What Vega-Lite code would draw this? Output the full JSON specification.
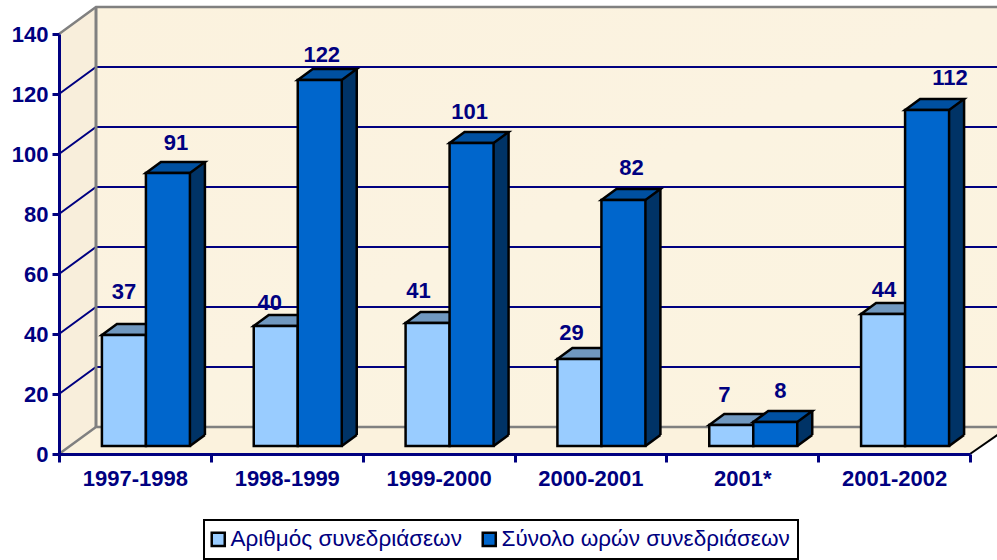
{
"$schema":"https://vega.github.io/schema/vega-lite/v6.json",
"width":911,"height":420,
"autosize":{"type":"none"},
"padding":{"left":59,"top":34,"right":27,"bottom":106},
"background":"white",
"config":{"view":{"stroke":null},"font":"Liberation Sans","legend":{"strokeWidth":2}},
"datasets":{
"bars":[
{"year":"1997-1998","series":"Αριθμός συνεδριάσεων","value":37},
{"year":"1998-1999","series":"Αριθμός συνεδριάσεων","value":40},
{"year":"1999-2000","series":"Αριθμός συνεδριάσεων","value":41},
{"year":"2000-2001","series":"Αριθμός συνεδριάσεων","value":29},
{"year":"2001*","series":"Αριθμός συνεδριάσεων","value":7},
{"year":"2001-2002","series":"Αριθμός συνεδριάσεων","value":44},
{"year":"1997-1998","series":"Σύνολο ωρών συνεδριάσεων","value":91},
{"year":"1998-1999","series":"Σύνολο ωρών συνεδριάσεων","value":122},
{"year":"1999-2000","series":"Σύνολο ωρών συνεδριάσεων","value":101},
{"year":"2000-2001","series":"Σύνολο ωρών συνεδριάσεων","value":82},
{"year":"2001*","series":"Σύνολο ωρών συνεδριάσεων","value":8},
{"year":"2001-2002","series":"Σύνολο ωρών συνεδριάσεων","value":112}],
"grid":[{"v":20},{"v":40},{"v":60},{"v":80},{"v":100},{"v":120}],
"edge":[{"v":0},{"v":140}],
"origin":[{"v":0}]
},
"data":{"name":"bars"},
"encoding":{
"x":{"field":"year","type":"nominal","sort":null,"title":null,
"scale":{"domain":["1997-1998","1998-1999","1999-2000","2000-2001","2001*","2001-2002"],"paddingInner":0,"paddingOuter":0},
"axis":{"labelAngle":0,"labelFontSize":22,"labelFontWeight":"bold","labelColor":"#000080","domainColor":"#000080","domainWidth":3,"tickColor":"#000080","tickWidth":3,"tickSize":8,"tickBand":"extent","labelPadding":6,"zindex":1}},
"y":{"field":"value","type":"quantitative","title":null,
"scale":{"domain":[0,140],"nice":false},
"axis":{"values":[0,20,40,60,80,100,120,140],"grid":false,"labelFontSize":22,"labelFontWeight":"bold","labelColor":"#000080","domainColor":"#000080","domainWidth":3,"tickColor":"#000080","tickWidth":3,"tickSize":7,"labelPadding":4,"zindex":1}}
},
"layer":[
{"data":{"name":"origin"},"mark":{"type":"point","shape":"M0,0L37,-27L37,-447L0,-420Z","size":4,"filled":true,"fill":"#f8eedb","stroke":null,"opacity":1},
 "encoding":{"x":{"datum":"1997-1998","bandPosition":0},"y":{"field":"v","type":"quantitative"}}},
{"data":{"name":"origin"},"mark":{"type":"point","shape":"M0,0L37,-27L950,-27L911,0Z","size":4,"filled":true,"fill":"#fbf2dd","stroke":null,"opacity":1},
 "encoding":{"x":{"datum":"1997-1998","bandPosition":0},"y":{"field":"v","type":"quantitative"}}},
{"data":{"name":"origin"},"mark":{"type":"point","shape":"M37,-27L950,-27L950,-447L37,-447Z","size":4,"filled":true,"stroke":null,"opacity":1,
  "fill":{"x1":0,"y1":0,"x2":1,"y2":1,"gradient":"linear","stops":[{"offset":0,"color":"#fbf2de"},{"offset":0.5,"color":"#fbf3e1"},{"offset":1,"color":"#fcf3df"}]}},
 "encoding":{"x":{"datum":"1997-1998","bandPosition":0},"y":{"field":"v","type":"quantitative"}}},
{"data":{"name":"grid"},"mark":{"type":"point","shape":"M0,0L37,-27L950,-27","size":4,"fill":null,"stroke":"#000080","strokeWidth":2,"opacity":1},
 "encoding":{"x":{"datum":"1997-1998","bandPosition":0},"y":{"field":"v","type":"quantitative"}}},
{"data":{"name":"edge"},"mark":{"type":"point","shape":"M0,0L37,-27L950,-27","size":4,"fill":null,"stroke":"#808080","strokeWidth":2.5,"opacity":1},
 "encoding":{"x":{"datum":"1997-1998","bandPosition":0},"y":{"field":"v","type":"quantitative"}}},
{"data":{"name":"origin"},"mark":{"type":"point","shape":"M37,-27L37,-447","size":4,"fill":null,"stroke":"#808080","strokeWidth":3,"opacity":1},
 "encoding":{"x":{"datum":"1997-1998","bandPosition":0},"y":{"field":"v","type":"quantitative"}}},
{"data":{"name":"origin"},"mark":{"type":"point","shape":"M911,0L950,-27","size":4,"fill":null,"stroke":"#000000","strokeWidth":2,"opacity":1},
 "encoding":{"x":{"datum":"1997-1998","bandPosition":0},"y":{"field":"v","type":"quantitative"}}},

{"transform":[{"filter":{"field":"series","equal":"Αριθμός συνεδριάσεων"}}],
 "mark":{"type":"point","shape":"M-33,-8L-18,-19L26,-19L11,-8Z","size":4,"filled":true,"fill":"#7098c0","stroke":"#000000","strokeWidth":2.5,"opacity":1}},
{"transform":[{"filter":{"field":"series","equal":"Αριθμός συνεδριάσεων"}}],
 "mark":{"type":"bar","width":44,"xOffset":-11,"yOffset":-8,"y2Offset":-8,"stroke":"#000000","strokeWidth":2.5},
 "encoding":{"y2":{"datum":0},"color":{"field":"series","type":"nominal","title":null,
   "scale":{"domain":["Αριθμός συνεδριάσεων","Σύνολο ωρών συνεδριάσεων"],"range":["#99ccff","#0066cc"]},
   "legend":{"orient":"none","legendX":145,"legendY":486,"direction":"horizontal","columns":2,"padding":8,"strokeColor":"#000000","fillColor":"#ffffff","symbolType":"square","symbolSize":170,"symbolStrokeColor":"#000000","symbolStrokeWidth":2.5,"symbolOffset":-5,"labelFontSize":22.5,"labelColor":"#000080","labelLimit":400,"labelOffset":1,"columnPadding":15,"symbolOpacity":1}}}},

{"transform":[{"filter":{"field":"series","equal":"Σύνολο ωρών συνεδριάσεων"}}],
 "mark":{"type":"bar","width":15,"xOffset":62.5,"yOffset":-8,"y2Offset":-19,"fill":"#003366","stroke":null},
 "encoding":{"y2":{"datum":0}}},
{"transform":[{"filter":{"field":"series","equal":"Σύνολο ωρών συνεδριάσεων"}}],
 "mark":{"type":"point","shape":"M55,-8L70,-19L70,-8Z","size":4,"filled":true,"fill":"#003366","stroke":null,"opacity":1}},
{"transform":[{"filter":{"field":"series","equal":"Σύνολο ωρών συνεδριάσεων"}}],
 "mark":{"type":"point","shape":"M55,-19L55,-8L70,-19Z","size":4,"filled":true,"fill":"#003366","stroke":null,"opacity":1},
 "encoding":{"y":{"datum":0}}},
{"transform":[{"filter":{"field":"series","equal":"Σύνολο ωρών συνεδριάσεων"}}],
 "mark":{"type":"point","shape":"M55,-8L70,-19","size":4,"fill":null,"stroke":"#000000","strokeWidth":2.5,"opacity":1},
 "encoding":{"y":{"datum":0}}},
{"transform":[{"filter":{"field":"series","equal":"Σύνολο ωρών συνεδριάσεων"}}],
 "mark":{"type":"rule","xOffset":70,"yOffset":-19,"y2Offset":-19,"color":"#000000","strokeWidth":2.5},
 "encoding":{"y2":{"datum":0}}},
{"transform":[{"filter":{"field":"series","equal":"Σύνολο ωρών συνεδριάσεων"}}],
 "mark":{"type":"point","shape":"M11,-8L26,-19L70,-19L55,-8Z","size":4,"filled":true,"fill":"#0050a0","stroke":"#000000","strokeWidth":2.5,"opacity":1}},
{"transform":[{"filter":{"field":"series","equal":"Σύνολο ωρών συνεδριάσεων"}}],
 "mark":{"type":"bar","width":44,"xOffset":33,"yOffset":-8,"y2Offset":-8,"stroke":"#000000","strokeWidth":2.5},
 "encoding":{"y2":{"datum":0},"color":{"field":"series","type":"nominal","title":null}}},

{"transform":[{"filter":"datum.value==37"}],"mark":{"type":"text","dx":-11,"dy":-51,"fontSize":22,"fontWeight":"bold","color":"#000080"},"encoding":{"text":{"field":"value"}}},
{"transform":[{"filter":"datum.value==40"}],"mark":{"type":"text","dx":-17,"dy":-31,"fontSize":22,"fontWeight":"bold","color":"#000080"},"encoding":{"text":{"field":"value"}}},
{"transform":[{"filter":"datum.value==41"}],"mark":{"type":"text","dx":-20,"dy":-40,"fontSize":22,"fontWeight":"bold","color":"#000080"},"encoding":{"text":{"field":"value"}}},
{"transform":[{"filter":"datum.value==29"}],"mark":{"type":"text","dx":-19,"dy":-34,"fontSize":22,"fontWeight":"bold","color":"#000080"},"encoding":{"text":{"field":"value"}}},
{"transform":[{"filter":"datum.value==7"}],"mark":{"type":"text","dx":-18,"dy":-38,"fontSize":22,"fontWeight":"bold","color":"#000080"},"encoding":{"text":{"field":"value"}}},
{"transform":[{"filter":"datum.value==44"}],"mark":{"type":"text","dx":-10,"dy":-32,"fontSize":22,"fontWeight":"bold","color":"#000080"},"encoding":{"text":{"field":"value"}}},
{"transform":[{"filter":"datum.value==91"}],"mark":{"type":"text","dx":41,"dy":-38,"fontSize":22,"fontWeight":"bold","color":"#000080"},"encoding":{"text":{"field":"value"}}},
{"transform":[{"filter":"datum.value==122"}],"mark":{"type":"text","dx":35,"dy":-33,"fontSize":22,"fontWeight":"bold","color":"#000080"},"encoding":{"text":{"field":"value"}}},
{"transform":[{"filter":"datum.value==101"}],"mark":{"type":"text","dx":31,"dy":-39,"fontSize":22,"fontWeight":"bold","color":"#000080"},"encoding":{"text":{"field":"value"}}},
{"transform":[{"filter":"datum.value==82"}],"mark":{"type":"text","dx":41,"dy":-40,"fontSize":22,"fontWeight":"bold","color":"#000080"},"encoding":{"text":{"field":"value"}}},
{"transform":[{"filter":"datum.value==8"}],"mark":{"type":"text","dx":38,"dy":-39,"fontSize":22,"fontWeight":"bold","color":"#000080"},"encoding":{"text":{"field":"value"}}},
{"transform":[{"filter":"datum.value==112"}],"mark":{"type":"text","dx":56,"dy":-40,"fontSize":22,"fontWeight":"bold","color":"#000080"},"encoding":{"text":{"field":"value"}}}
],
"resolve":{"scale":{"color":"shared"}}
}
